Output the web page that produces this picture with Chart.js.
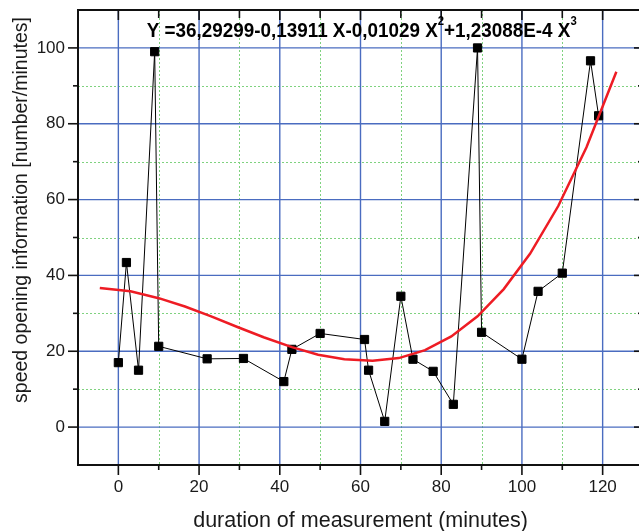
<!DOCTYPE html>
<html lang="en">
<head>
  <meta charset="UTF-8" />
  <title>Speed opening information</title>
  <script src="https://cdn.jsdelivr.net/npm/chart.js"></script>
  <style>
    body {
      margin: 0;
      padding: 0;
      background: #fff;
      overflow: hidden;
    }

    .wrap {
      width: 639px;
      height: 531px;
      overflow: hidden;
    }

    canvas {
      display: block;
    }
  </style>
</head>
<body>
  <div class="wrap">
    <canvas id="speedChart" width="650" height="531"></canvas>
  </div>

  <script>
    // measured values
    const minutes = [0, 2, 5, 9, 10, 22, 31, 41, 43, 50, 61, 62, 66, 70, 73, 78, 83, 89, 90, 100, 104, 110, 117, 119];
    const speed = [17, 43.4, 15, 99, 21.3, 18, 18.1, 12, 20.5, 24.7, 23.1, 15, 1.5, 34.5, 17.9, 14.7, 6, 100, 25, 17.9, 35.8, 40.6, 96.6, 82.1];

    // red fit curve
    const fitMinutes = [-4.6, 3, 10, 16.5, 23, 29.5, 36, 43, 49.5, 56, 63, 69.5, 76, 82.5, 89, 95.5, 102, 109, 116, 123.4];
    const fitSpeed = [36.7, 35.8, 34.0, 31.8, 29.2, 26.4, 23.7, 21.1, 19.1, 17.9, 17.5, 18.2, 20.3, 23.9, 29.2, 36.4, 45.7, 58.3, 73.8, 93.7];

    // ticks
    const xMajor = [0, 20, 40, 60, 80, 100, 120];
    const xMinor = [10, 30, 50, 70, 90, 110];
    const yMajor = [0, 20, 40, 60, 80, 100];
    const yMinor = [10, 30, 50, 70, 90];

    const xTitle = 'duration of measurement (minutes)';
    const yTitle = 'speed opening information [number/minutes]';
    const equation = [
      { text: 'Y =36,29299-0,13911 X-0,01029 X', sup: false },
      { text: '2', sup: true },
      { text: '+1,23088E-4 X', sup: false },
      { text: '3', sup: true }
    ];

    const FONT = '"Liberation Sans", Arial, sans-serif';

    function line(ctx, x1, y1, x2, y2) {
      ctx.beginPath();
      ctx.moveTo(x1, y1);
      ctx.lineTo(x2, y2);
      ctx.stroke();
    }

    // grid, frame, ticks and texts drawn against the chart scales
    const originFrame = {
      id: 'originFrame',
      beforeDatasetsDraw(chart) {
        const { ctx, chartArea: a, scales: { x, y } } = chart;
        ctx.save();

        // minor dotted green grid
        ctx.strokeStyle = '#7fd27f';
        ctx.lineWidth = 1;
        ctx.setLineDash([2, 2]);
        xMinor.forEach(v => {
          const px = Math.round(x.getPixelForValue(v)) + 0.5;
          line(ctx, px, a.top, px, a.bottom);
        });
        yMinor.forEach(v => {
          const py = Math.round(y.getPixelForValue(v)) + 0.5;
          line(ctx, a.left, py, a.right, py);
        });

        // major blue grid
        ctx.setLineDash([]);
        ctx.strokeStyle = '#4a6cc0';
        ctx.lineWidth = 1.4;
        xMajor.forEach(v => {
          const px = x.getPixelForValue(v);
          line(ctx, px, a.top, px, a.bottom);
        });
        yMajor.forEach(v => {
          const py = y.getPixelForValue(v);
          line(ctx, a.left, py, a.right, py);
        });
        ctx.restore();
      },
      afterDatasetsDraw(chart) {
        const { ctx, chartArea: a, scales: { x, y } } = chart;
        ctx.save();

        // frame
        ctx.strokeStyle = '#111';
        ctx.lineWidth = 2;
        ctx.strokeRect(a.left, a.top, a.right - a.left, a.bottom - a.top);

        // ticks: out on left/bottom, in on top/right
        ctx.lineWidth = 1.6;
        xMajor.forEach(v => {
          const px = x.getPixelForValue(v);
          line(ctx, px, a.bottom, px, a.bottom + 10);
          line(ctx, px, a.top, px, a.top + 10);
        });
        xMinor.forEach(v => {
          const px = x.getPixelForValue(v);
          line(ctx, px, a.bottom, px, a.bottom + 5);
          line(ctx, px, a.top, px, a.top + 8);
        });
        yMajor.forEach(v => {
          const py = y.getPixelForValue(v);
          line(ctx, a.left - 10, py, a.left, py);
          line(ctx, a.right - 9, py, a.right, py);
        });
        yMinor.forEach(v => {
          const py = y.getPixelForValue(v);
          line(ctx, a.left - 5, py, a.left, py);
          line(ctx, a.right - 5, py, a.right, py);
        });

        // axis titles
        ctx.fillStyle = '#1a1a1a';
        ctx.textAlign = 'center';
        ctx.textBaseline = 'alphabetic';
        ctx.font = '21.5px ' + FONT;
        ctx.fillText(xTitle, (a.left + a.right) / 2, 527);

        ctx.save();
        ctx.translate(27, 210);
        ctx.rotate(-Math.PI / 2);
        ctx.font = '19.5px ' + FONT;
        ctx.fillText(yTitle, 0, 0);
        ctx.restore();

        // fit equation, squeezed like the original
        const mainFont = 'bold 20px ' + FONT;
        const supFont = 'bold 12px ' + FONT;
        let total = 0;
        equation.forEach(p => {
          ctx.font = p.sup ? supFont : mainFont;
          p.w = ctx.measureText(p.text).width;
          total += p.w;
        });
        const sx = 430 / total;
        ctx.translate(a.left + 68.7, a.top + 27);
        ctx.scale(sx, 1);
        ctx.textAlign = 'left';
        ctx.fillStyle = '#000';
        let cx = 0;
        equation.forEach(p => {
          ctx.font = p.sup ? supFont : mainFont;
          ctx.fillText(p.text, cx, p.sup ? -12 : 0);
          cx += p.w;
        });
        ctx.restore();
      }
    };

    const tickFont = { family: FONT, size: 17 };

    new Chart(document.getElementById('speedChart'), {
      type: 'scatter',
      data: {
        datasets: [
          {
            label: 'fit',
            data: fitMinutes.map((v, i) => ({ x: v, y: fitSpeed[i] })),
            showLine: true,
            borderColor: '#ee1c24',
            borderWidth: 2.5,
            pointRadius: 0,
            order: 0
          },
          {
            label: 'speed',
            data: minutes.map((v, i) => ({ x: v, y: speed[i] })),
            showLine: true,
            borderColor: '#000',
            borderWidth: 1,
            pointStyle: 'rect',
            pointRadius: 5.8,
            pointBackgroundColor: '#000',
            pointBorderColor: '#000',
            pointBorderWidth: 1,
            order: 1
          }
        ]
      },
      options: {
        responsive: false,
        animation: false,
        events: [],
        layout: { padding: { left: 0, top: 10, right: 7, bottom: 0 } },
        plugins: {
          legend: { display: false },
          tooltip: { enabled: false }
        },
        scales: {
          x: {
            type: 'linear',
            min: -10,
            max: 130,
            afterBuildTicks: s => { s.ticks = xMajor.map(v => ({ value: v })); },
            afterFit: s => { s.height = 66; s.paddingLeft = 0; s.paddingRight = 0; },
            ticks: { font: tickFont, color: '#1a1a1a', padding: 12, maxRotation: 0, autoSkip: false },
            grid: { display: false, drawTicks: false },
            border: { display: false }
          },
          y: {
            type: 'linear',
            min: -10,
            max: 110,
            afterBuildTicks: s => { s.ticks = yMajor.map(v => ({ value: v })); },
            afterFit: s => { s.width = 78; s.paddingTop = 0; s.paddingBottom = 0; },
            ticks: { font: tickFont, color: '#1a1a1a', padding: 13, autoSkip: false },
            grid: { display: false, drawTicks: false },
            border: { display: false }
          }
        }
      },
      plugins: [originFrame]
    });
  </script>
</body>
</html>
